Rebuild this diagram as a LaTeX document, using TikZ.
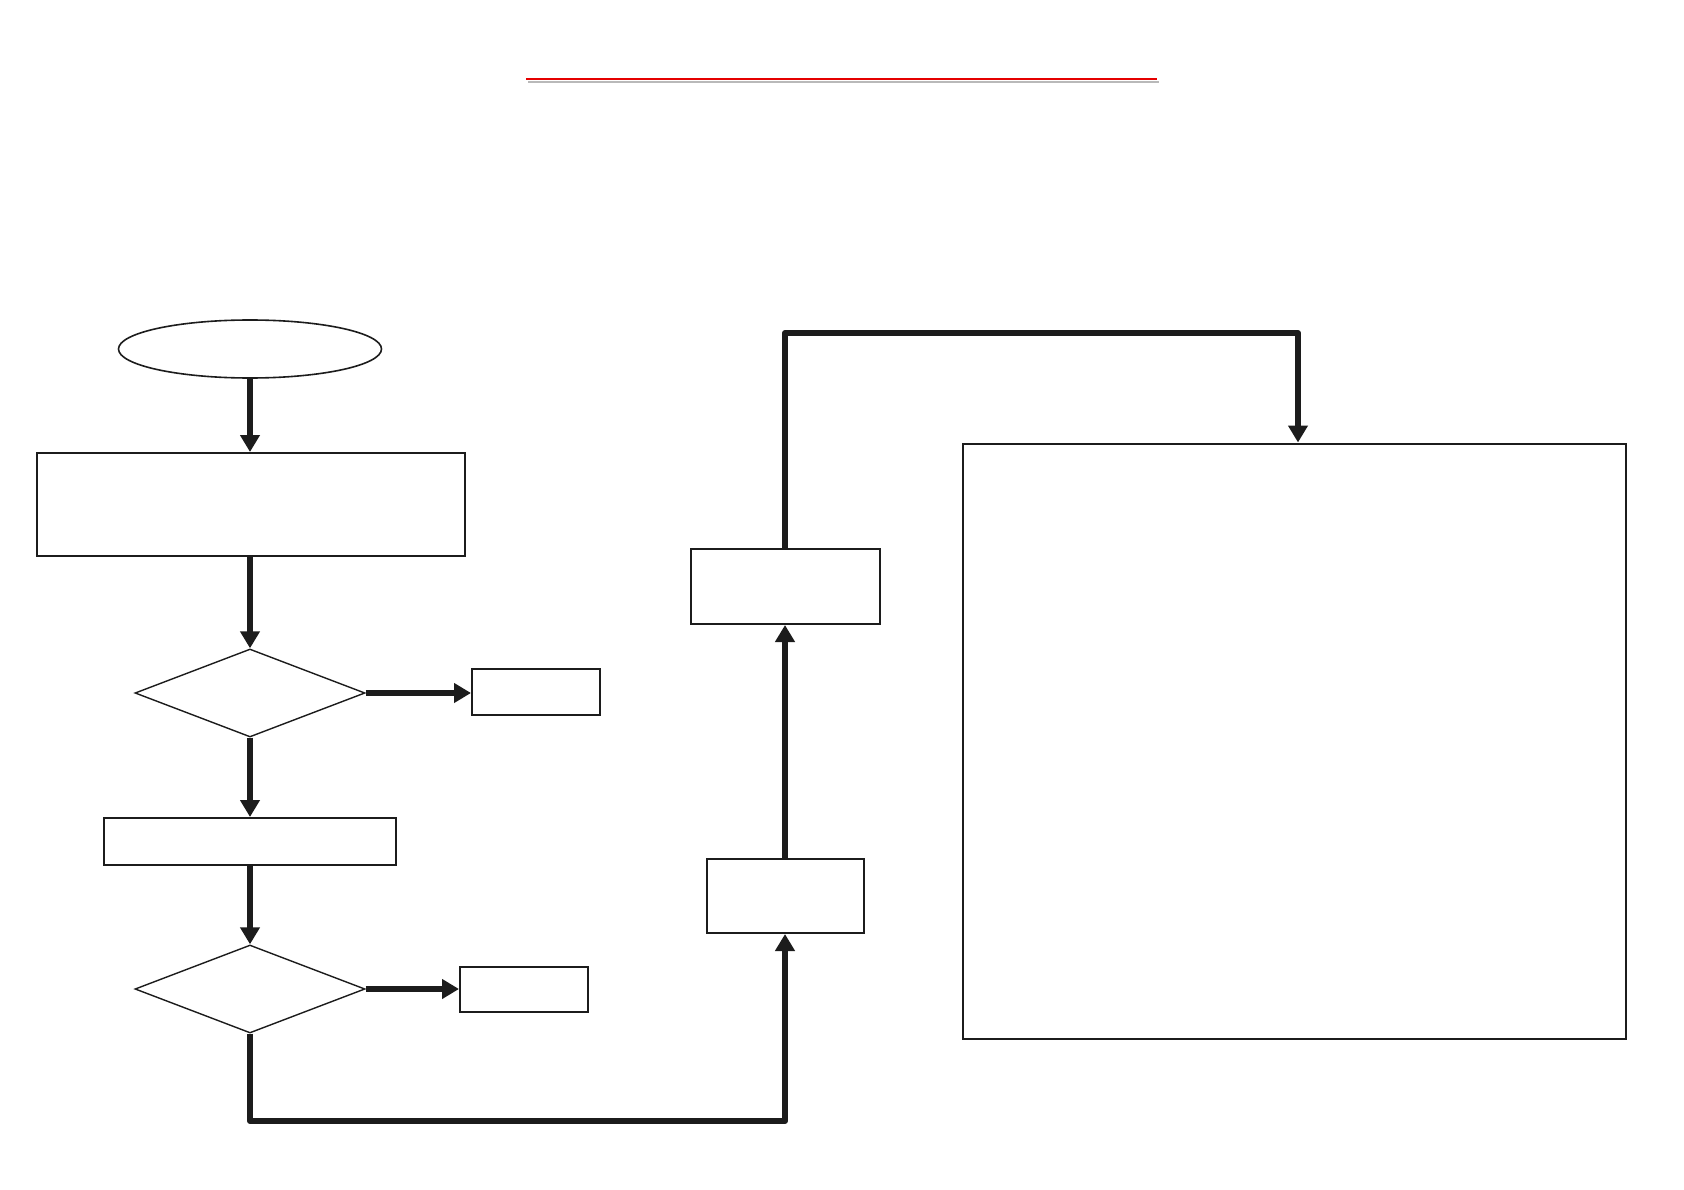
\documentclass[tikz,border=0pt]{standalone}
\usetikzlibrary{shapes.geometric,arrows.meta}
\definecolor{ink}{HTML}{1C1C1C}
\begin{document}
\begin{tikzpicture}[x=1pt,y=-1pt,
  thinbox/.style={draw=ink,line width=2pt,rectangle,inner sep=0pt},
  decision/.style={draw=ink,line width=1.4pt,diamond,inner sep=0pt},
  conn/.style={draw=ink,line width=6pt,line join=round,-{Triangle[length=17pt,width=19pt]}},
  plainconn/.style={draw=ink,line width=6pt,line join=round,line cap=round}]
\useasboundingbox (0,0) rectangle (1684,1190);
\fill[white] (0,0) rectangle (1684,1190);
% title underline
\coordinate (tl) at (526,79);
\coordinate (tr) at (1157,79);
\draw[gray!55,line width=2.5pt] ([shift={(2,3)}]tl) -- ([shift={(2,3)}]tr);
\draw[red!90!black,line width=2.5pt] (tl) -- (tr);
% nodes
\node[draw=ink,line width=1.6pt,ellipse,minimum width=263,minimum height=58,inner sep=0pt] (start) at (250,349) {};
\node[thinbox,minimum width=428,minimum height=103] (b1) at (250.5,504.5) {};
\node[decision,minimum width=230,minimum height=88] (d1) at (250,693) {};
\node[thinbox,minimum width=128,minimum height=46] (b2) at (536,692) {};
\node[thinbox,minimum width=292,minimum height=47] (b3) at (250,841.5) {};
\node[decision,minimum width=230,minimum height=88] (d2) at (250,989) {};
\node[thinbox,minimum width=128,minimum height=45] (b4) at (524,989.5) {};
\node[thinbox,minimum width=157,minimum height=74] (b5) at (785,896) {};
\node[thinbox,minimum width=189,minimum height=75] (b6) at (785,586.5) {};
\node[thinbox,minimum width=663,minimum height=595] (big) at (1294,741) {};
\coordinate (bl) at (250,1121);
\coordinate (br) at (785,1121);
\coordinate (tlc) at (785,333);
\coordinate (trc) at (1298,333);
% connectors
\draw[conn] (start.south) -- (start.south |- b1.north);
\draw[conn] (d1.north |- b1.south) -- (d1.north);
\draw[conn] (d1.east) -- (d1.east -| b2.west);
\draw[conn] (d1.south) -- (d1.south |- b3.north);
\draw[conn] (d2.north |- b3.south) -- (d2.north);
\draw[conn] (d2.east) -- (d2.east -| b4.west);
\draw[conn] (d2.south) -- (bl) -- (br) -- (b5.south);
\draw[conn] (b5.north) -- (b6.south);
\draw[conn] (b6.north) -- (tlc) -- (trc) -- (trc |- big.north);
\end{tikzpicture}
\end{document}
